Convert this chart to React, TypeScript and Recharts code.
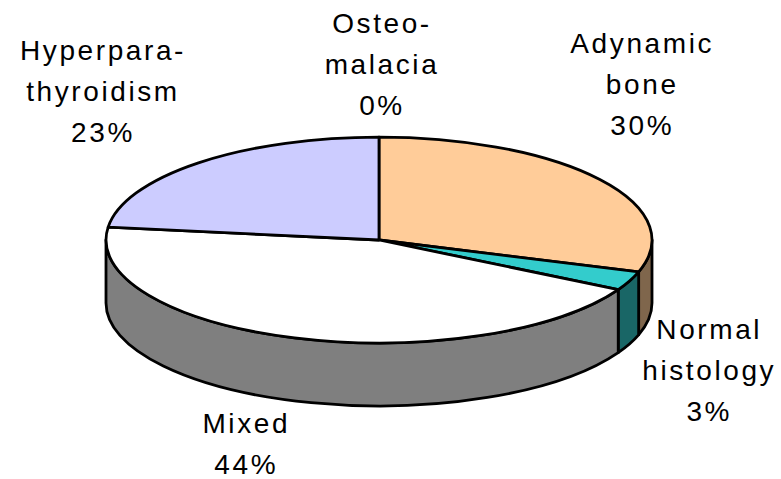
import { PieChart, Pie, Cell } from "recharts";

const categories = ["Osteomalacia", "Adynamic bone", "Normal histology", "Mixed", "Hyperparathyroidism"];
const labelLines = [["Osteo-", "malacia"], ["Adynamic", "bone"], ["Normal", "histology"], ["Mixed"], ["Hyperpara-", "thyroidism"]];
const values = [0, 30, 3, 44, 23];
const colors = ["#9999FF", "#FFCC99", "#33CCCC", "#FFFFFF", "#CCCCFF"];

const data = categories.map((name, i) => ({ name, value: values[i], lines: labelLines[i] }));

// layout of the tilted pie
const CX = 379;
const CY = 240;
const RX = 273;
const TILT = 0.377;
const DEPTH = 63;

// label nudges relative to the computed anchor
const LABEL_SHIFT: [number, number][] = [
  [3, -3],
  [10, -50],
  [43, 12],
  [-36, -4],
  [-69, -17],
];

const rad = (a: number) => (a * Math.PI) / 180;
const pt = (cx: number, cy: number, rx: number, ry: number, a: number) => [
  cx + rx * Math.cos(rad(a)),
  cy - ry * Math.sin(rad(a)),
];

function darken(hex: string) {
  const n = parseInt(hex.slice(1), 16);
  const r = ((n >> 16) & 255) >> 1;
  const g = ((n >> 8) & 255) >> 1;
  const b = (n & 255) >> 1;
  return `rgb(${r},${g},${b})`;
}

function Slice3D(props: any) {
  const { cx, cy, outerRadius, startAngle, endAngle, fill } = props;
  const rx = outerRadius;
  const ry = outerRadius * TILT;
  const hi = Math.max(startAngle, endAngle);
  const lo = Math.min(startAngle, endAngle);
  if (hi - lo < 0.01) return <g />;

  const [hx, hy] = pt(cx, cy, rx, ry, hi);
  const [lx, ly] = pt(cx, cy, rx, ry, lo);
  const large = hi - lo > 180 ? 1 : 0;
  const top = `M${cx},${cy} L${hx},${hy} A${rx},${ry} 0 ${large} 1 ${lx},${ly} Z`;

  // side wall only where the rim faces the viewer
  const wlo = Math.max(lo, -180);
  const whi = Math.min(hi, 0);
  let wall: string | null = null;
  if (whi - wlo > 0.01) {
    const [ax, ay] = pt(cx, cy, rx, ry, whi);
    const [bx, by] = pt(cx, cy, rx, ry, wlo);
    wall = `M${ax},${ay} A${rx},${ry} 0 0 1 ${bx},${by} L${bx},${by + DEPTH} A${rx},${ry} 0 0 0 ${ax},${ay + DEPTH} Z`;
  }

  return (
    <g>
      {wall && <path d={wall} fill={darken(fill)} stroke="#000" strokeWidth={2.8} strokeLinejoin="round" />}
      <path d={top} fill={fill} stroke="#000" strokeWidth={2.8} strokeLinejoin="round" />
    </g>
  );
}

function renderLabel(props: any) {
  const { midAngle, percent, index } = props;
  const ry = RX * TILT;
  const s = Math.sin(rad(midAngle));
  const c = Math.cos(rad(midAngle));
  const [dx, dy] = LABEL_SHIFT[index] ?? [0, 0];
  const x = CX + (RX + 40) * c + dx;
  const yMid = CY - (ry + 60) * s + (s < 0 ? DEPTH : 0) + dy;
  const lines = [...data[index].lines, `${Math.round(percent * 100)}%`];
  const y0 = yMid - ((lines.length - 1) * 41) / 2;
  return (
    <text
      key={`lbl-${index}`}
      x={x}
      y={y0}
      textAnchor="middle"
      fill="#000"
      fontSize={28}
      letterSpacing={2.6}
      fontFamily="'Liberation Sans', Arial, sans-serif"
    >
      {lines.map((l, i) => (
        <tspan key={i} x={x} y={y0 + i * 41}>
          {l}
        </tspan>
      ))}
    </text>
  );
}

export default function App() {
  return (
    <div style={{ position: "absolute", left: 0, top: 0, width: 781, height: 479, background: "#fff" }}>
      <PieChart width={781} height={479} margin={{ top: 0, right: 0, bottom: 0, left: 0 }}>
        <Pie
          data={data}
          dataKey="value"
          nameKey="name"
          cx={CX}
          cy={CY}
          outerRadius={RX}
          startAngle={90}
          endAngle={-270}
          stroke="none"
          isAnimationActive={false}
          shape={Slice3D}
          activeShape={Slice3D}
          inactiveShape={Slice3D}
          label={renderLabel}
          labelLine={false}
        >
          {data.map((d, i) => (
            <Cell key={d.name} fill={colors[i]} />
          ))}
        </Pie>
      </PieChart>
    </div>
  );
}
